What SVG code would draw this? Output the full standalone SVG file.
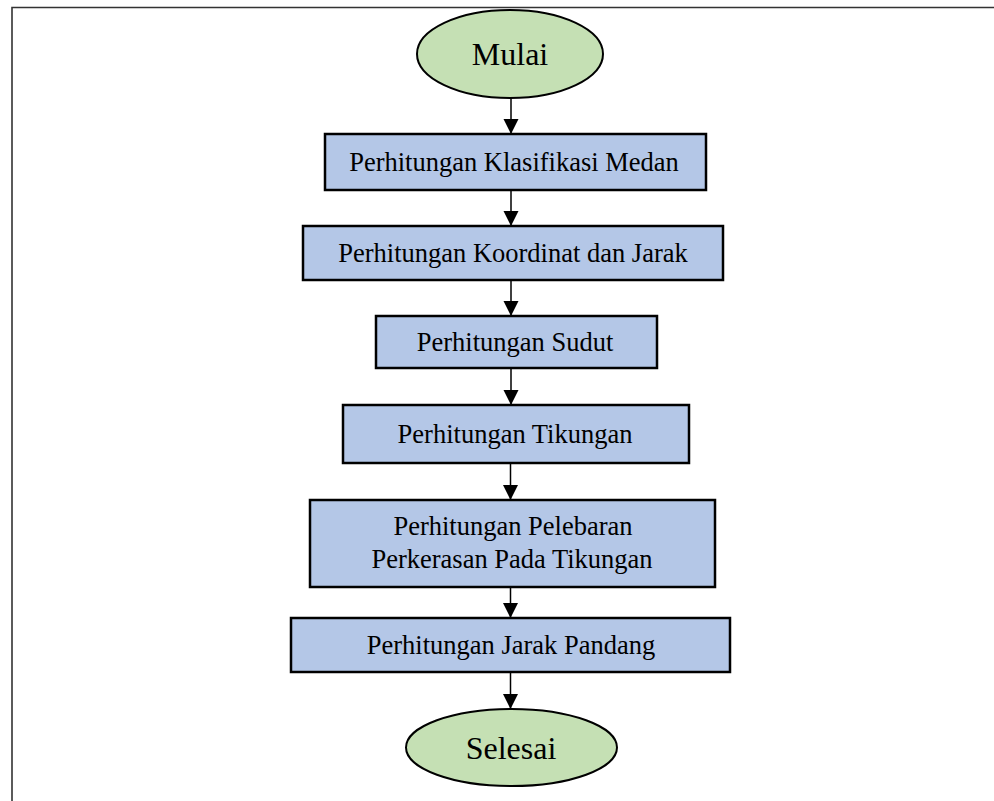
<svg xmlns="http://www.w3.org/2000/svg" width="994" height="801" viewBox="0 0 994 801">
<style>
.box{fill:#B4C7E7;stroke:#000;stroke-width:2.5}
.term{fill:#C5E0B4;stroke:#000;stroke-width:2}
.lbl{font-family:"Liberation Serif","Times New Roman",serif;font-size:26.5px;fill:#000;text-anchor:middle}
.big{font-family:"Liberation Serif","Times New Roman",serif;font-size:32px;fill:#000;text-anchor:middle}
.conn{stroke:#000;stroke-width:1.5;fill:none;marker-end:url(#arr)}
</style>
<defs>
<marker id="arr" markerUnits="userSpaceOnUse" markerWidth="16" markerHeight="17" refX="15" refY="7.5" orient="auto">
<path d="M0,0 L15,7.5 L0,15 Z" fill="#000"/>
</marker>
</defs>
<rect width="994" height="801" fill="#fff"/>
<g id="frame" stroke="#333" stroke-width="1.6" fill="none">
<path d="M12,801 L12,7.5 L994,7.5"/>
</g>
<g id="connectors">
<line class="conn" x1="511" y1="98" x2="511" y2="134"/>
<line class="conn" x1="511" y1="190" x2="511" y2="226"/>
<line class="conn" x1="511" y1="280" x2="511" y2="316"/>
<line class="conn" x1="511" y1="368" x2="511" y2="405"/>
<line class="conn" x1="510.5" y1="463" x2="510.5" y2="500"/>
<line class="conn" x1="510.5" y1="587" x2="510.5" y2="618"/>
<line class="conn" x1="510.5" y1="672" x2="510.5" y2="709"/>
</g>
<g id="mulai">
<ellipse class="term" cx="510" cy="54" rx="93" ry="44"/>
<text class="big" x="510" y="65">Mulai</text>
</g>
<g id="klasifikasi">
<rect class="box" x="325" y="134" width="381" height="56"/>
<text class="lbl" x="514" y="171">Perhitungan Klasifikasi Medan</text>
</g>
<g id="koordinat">
<rect class="box" x="303" y="226" width="420" height="54"/>
<text class="lbl" x="513" y="262">Perhitungan Koordinat dan Jarak</text>
</g>
<g id="sudut">
<rect class="box" x="376" y="316" width="281" height="52"/>
<text class="lbl" x="515" y="351">Perhitungan Sudut</text>
</g>
<g id="tikungan">
<rect class="box" x="343" y="405" width="346" height="58"/>
<text class="lbl" x="515" y="443">Perhitungan Tikungan</text>
</g>
<g id="pelebaran">
<rect class="box" x="310" y="500" width="405" height="87"/>
<text class="lbl" x="513" y="535">Perhitungan Pelebaran</text>
<text class="lbl" x="512" y="568">Perkerasan Pada Tikungan</text>
</g>
<g id="jarakpandang">
<rect class="box" x="291" y="618" width="439" height="54"/>
<text class="lbl" x="511" y="654">Perhitungan Jarak Pandang</text>
</g>
<g id="selesai">
<ellipse class="term" cx="511.5" cy="747.5" rx="105.5" ry="38.5"/>
<text class="big" x="511" y="759">Selesai</text>
</g>
</svg>
